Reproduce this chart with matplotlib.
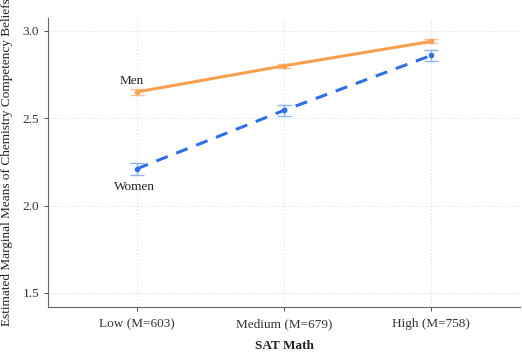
import numpy as np
import matplotlib
matplotlib.use("Agg")
import matplotlib.pyplot as plt

# data
levels = ["Low (M=603)", "Medium (M=679)", "High (M=758)"]
men = [2.65, 2.80, 2.94]
men_err = [0.015, 0.012, 0.012]
women = [2.21, 2.545, 2.86]
women_err = [0.032, 0.03, 0.032]
yticks = [1.5, 2.0, 2.5, 3.0]

plt.rcParams["font.family"] = ["Liberation Serif", "DejaVu Serif"]

fig = plt.figure(figsize=(5.22, 3.52), dpi=100)
ax = fig.add_axes([0.092, 0.128, 0.904, 0.821])

x = np.arange(len(levels))

orange = "#F7A04E"
blue = "#2F6FE8"

ax.errorbar(x, men, yerr=men_err, fmt="none", ecolor="#F9C090", capsize=5, elinewidth=1, capthick=1, zorder=2)
ax.errorbar(x, women, yerr=women_err, fmt="none", ecolor="#8DB4F2", capsize=5, elinewidth=1, capthick=1, zorder=2)
ax.plot(x, men, color=orange, lw=2.2, marker="o", ms=3, zorder=3)
ax.plot(x, women, color=blue, lw=2.2, ls=(0, (4, 3)), marker="o", ms=3, zorder=3)

ax.text(x[0] - 0.03, 2.714, "Men", fontsize=9.5, color="#222222", ha="center", va="center")
ax.text(x[0] - 0.015, 2.109, "Women", fontsize=9.5, color="#222222", ha="center", va="center")

ax.set_xlim(-0.6, 2.6)
ax.set_ylim(1.42, 3.074)
ax.set_xticks(x)
ax.set_xticklabels(levels)
ax.set_yticks(yticks)
ax.set_yticklabels([f"{v:.1f}" for v in yticks])
ax.tick_params(labelsize=9.5, colors="#333333", length=3, width=0.6)
ax.tick_params(axis="x", pad=5)

ax.grid(True, ls=(0, (1, 2)), color="#CFE0E8", lw=0.8)
ax.set_axisbelow(True)
for s in ["top", "right"]:
    ax.spines[s].set_visible(False)
for s in ["left", "bottom"]:
    ax.spines[s].set_color("#666666")
    ax.spines[s].set_linewidth(0.8)

ax.set_xlabel("SAT Math", fontsize=9.5, fontweight="bold", color="#222222")
ax.xaxis.set_label_coords(0.5, -0.115)
ax.set_ylabel("Estimated Marginal Means of Chemistry Competency Beliefs", fontsize=9.5, color="#222222")
ax.yaxis.set_label_coords(-0.075, 0.5)

fig.savefig("out.png", dpi=100)
